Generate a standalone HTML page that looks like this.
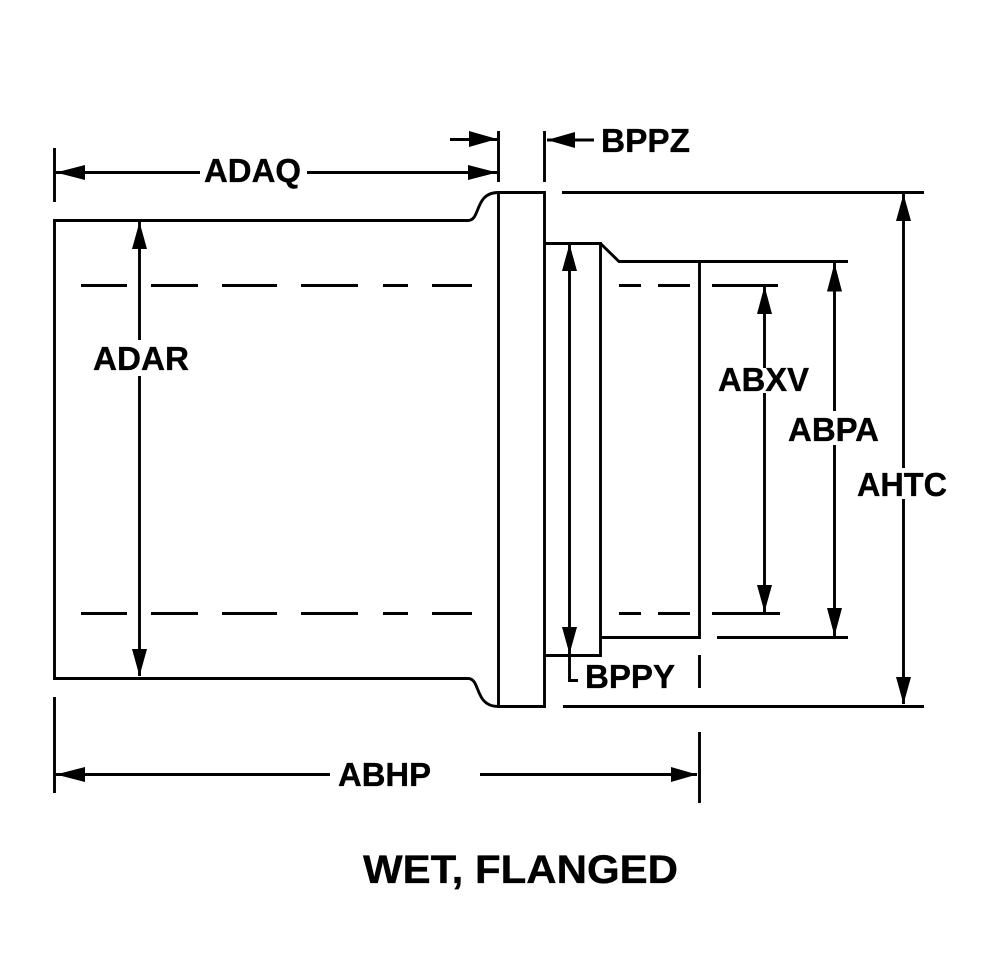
<!DOCTYPE html>
<html><head><meta charset="utf-8"><style>html,body{margin:0;padding:0;background:#fff}svg{display:block}text{font-family:"Liberation Sans",sans-serif;font-weight:bold;font-size:33px;fill:#000;stroke:#000;stroke-width:.35px}</style></head><body>
<svg width="987" height="973" viewBox="0 0 987 973" xmlns="http://www.w3.org/2000/svg">
<g fill="none" stroke="#000" stroke-width="2.9">
<path d="M468,220.5 H54.5 V678.5 H468"/>
<path d="M468,220.5 C481,220.5 474,192.5 498.5,192.5 H544.5 V706.5 H498.5 C474,706.5 481,678.5 468,678.5"/>
<path d="M498.5,192.5 V706.5"/>
<path d="M545,243.5 H600.5 V655.5 H545"/>
<path d="M600.5,243.5 L619,261.5 H848"/>
<path d="M699.5,261.5 V637.5 H601"/>
<path d="M717,637.5 H848"/>
<path d="M562,192.5 H924 M563,706.5 H924"/>
<path d="M81,285.5 H127 M151,285.5 H198 M222,285.5 H277 M301,285.5 H358 M383,285.5 H408 M432,285.5 H472 M619,285.5 H641 M658,285.5 H690 M712,285.5 H778"/>
<path d="M81,613.5 H127 M151,613.5 H198 M222,613.5 H277 M301,613.5 H358 M383,613.5 H408 M432,613.5 H472 M619,613.5 H641 M658,613.5 H690 M712,613.5 H780"/>
<path d="M54.5,148 V202 M498.5,131 V182 M544.5,131 V182 M54.5,697 V793 M699.5,732 V803 M699.5,655 V688"/>
<path d="M450,139.5 H497 M547,140 H594 M56,172.5 H200 M307,172.5 H497 M56,774.5 H330 M480,774.5 H697"/>
<path d="M139.5,222 V340 M139.5,376 V676 M569.5,244 V680.5 H578 M764.5,287 V368 M764.5,393 V612 M834.5,263 V411 M834.5,445 V636 M903.5,194 V468 M903.5,499 V704"/>
</g>
<g fill="#000" stroke="none">
<path d="M497,139 L469,131 V147 Z"/>
<path d="M547,140 L575,132 V148 Z"/>
<path d="M56,172.5 L85,165 V180 Z"/>
<path d="M497,172.5 L468,165 V180 Z"/>
<path d="M56,774.5 L85,767 V782 Z"/>
<path d="M697,774.5 L671,767 V782 Z"/>
<path d="M139.5,222 L132,249 H147 Z"/>
<path d="M139.5,676 L132,649 H147 Z"/>
<path d="M569.5,244 L562,271 H577 Z"/>
<path d="M569.5,654 L562,627 H577 Z"/>
<path d="M764.5,286 L757,314 H772 Z"/>
<path d="M764.5,612 L757,585 H772 Z"/>
<path d="M834.5,263 L827,291.5 H842 Z"/>
<path d="M834.5,636 L827,608 H842 Z"/>
<path d="M903.5,194 L896,221 H911 Z"/>
<path d="M903.5,704 L896,677 H911 Z"/>
</g>
<text x="204" y="182" textLength="97" lengthAdjust="spacingAndGlyphs">ADAQ</text>
<text x="601" y="152" textLength="89" lengthAdjust="spacingAndGlyphs">BPPZ</text>
<text x="93" y="370" textLength="96" lengthAdjust="spacingAndGlyphs">ADAR</text>
<text x="718" y="391" textLength="91" lengthAdjust="spacingAndGlyphs">ABXV</text>
<text x="788" y="441" textLength="91" lengthAdjust="spacingAndGlyphs">ABPA</text>
<text x="857" y="496" textLength="90" lengthAdjust="spacingAndGlyphs">AHTC</text>
<text x="585" y="688" textLength="90" lengthAdjust="spacingAndGlyphs">BPPY</text>
<text x="338" y="786" textLength="93" lengthAdjust="spacingAndGlyphs">ABHP</text>
<text x="363" y="883" textLength="315" lengthAdjust="spacingAndGlyphs" style="font-size:40px">WET, FLANGED</text>
</svg>
</body></html>
